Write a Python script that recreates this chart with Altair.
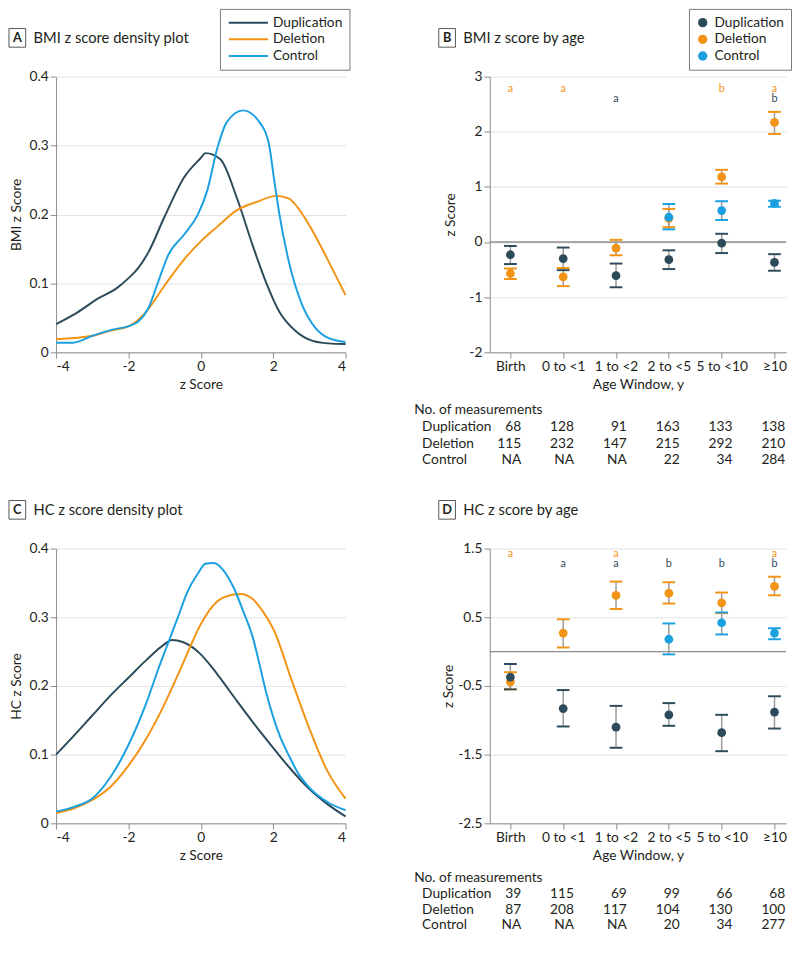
import altair as alt
import pandas as pd

FONT = "Lato"
TXT = "#231f20"
GROUPS = ["Duplication", "Deletion", "Control"]
COLORS = ["#2d4a5a", "#f39314", "#1aa0e0"]

AGE_WINDOWS = ["Birth", "0 to <1", "1 to <2", "2 to <5", "5 to <10", "\u226510"]

# ---------------- Panel A: BMI z score density ----------------
bmi_dup_x = [-4, -3.44, -2.81, -2.35, -1.99, -1.72, -1.45, -1.0, -0.46, 0.0, 0.13, 0.54, 0.99, 1.44, 1.80, 2.17, 2.62, 3.07, 3.52, 4.0]
bmi_dup_y = [0.041, 0.057, 0.079, 0.092, 0.108, 0.123, 0.145, 0.197, 0.254, 0.282, 0.289, 0.280, 0.225, 0.154, 0.102, 0.059, 0.031, 0.017, 0.013, 0.012]
bmi_del_x = [-4, -2.99, -2.54, -1.99, -1.54, -1.0, -0.46, 0.0, 0.45, 0.99, 1.53, 2.10, 2.44, 2.62, 3.07, 3.52, 4.0]
bmi_del_y = [0.019, 0.024, 0.031, 0.038, 0.057, 0.097, 0.135, 0.161, 0.182, 0.206, 0.218, 0.227, 0.223, 0.214, 0.178, 0.133, 0.083]
bmi_con_x = [-4, -3.53, -2.99, -2.44, -1.99, -1.72, -1.45, -1.18, -0.91, -0.46, -0.09, 0.18, 0.45, 0.72, 1.17, 1.62, 1.89, 2.03, 2.17, 2.44, 2.80, 3.16, 3.52, 4.0]
bmi_con_y = [0.014, 0.014, 0.024, 0.033, 0.038, 0.045, 0.064, 0.102, 0.140, 0.171, 0.199, 0.235, 0.295, 0.334, 0.351, 0.334, 0.300, 0.249, 0.201, 0.130, 0.069, 0.036, 0.021, 0.015]

# ---------------- Panel C: HC z score density ----------------
hc_dup_x = [-4, -3.5, -3, -2.5, -2, -1.5, -1, -0.8, -0.5, 0, 0.25, 0.5, 1, 1.5, 2, 2.5, 3, 3.5, 4]
hc_dup_y = [0.100, 0.128, 0.157, 0.186, 0.212, 0.238, 0.261, 0.267, 0.264, 0.246, 0.231, 0.214, 0.178, 0.143, 0.110, 0.078, 0.050, 0.028, 0.010]
hc_del_x = [-4, -3.5, -3, -2.5, -2, -1.5, -1, -0.5, -0.27, 0, 0.45, 0.81, 1.1, 1.4, 1.71, 2.03, 2.5, 3, 3.5, 4]
hc_del_y = [0.015, 0.022, 0.034, 0.053, 0.084, 0.124, 0.174, 0.232, 0.260, 0.290, 0.323, 0.332, 0.334, 0.328, 0.309, 0.280, 0.210, 0.138, 0.076, 0.036]
hc_con_x = [-4, -3.5, -3, -2.5, -2, -1.5, -1.18, -0.64, -0.37, -0.09, 0.13, 0.36, 0.63, 0.90, 1.17, 1.44, 1.62, 1.8, 2.0, 2.2, 2.44, 2.7, 3.0, 3.5, 4]
hc_con_y = [0.017, 0.024, 0.036, 0.067, 0.114, 0.176, 0.224, 0.299, 0.337, 0.363, 0.378, 0.379, 0.368, 0.344, 0.309, 0.270, 0.232, 0.192, 0.155, 0.125, 0.098, 0.072, 0.052, 0.031, 0.019]

# ---------------- Panel B: BMI z score by age ----------------
bmi_dup_mean = [-0.23, -0.30, -0.61, -0.32, -0.02, -0.37]
bmi_dup_lo = [-0.40, -0.51, -0.82, -0.49, -0.20, -0.52]
bmi_dup_hi = [-0.07, -0.10, -0.39, -0.15, 0.15, -0.22]
bmi_del_mean = [-0.57, -0.63, -0.11, 0.43, 1.18, 2.17]
bmi_del_lo = [-0.67, -0.80, -0.24, 0.27, 1.06, 1.96]
bmi_del_hi = [-0.48, -0.47, 0.04, 0.60, 1.31, 2.36]
bmi_con_mean = [None, None, None, 0.45, 0.57, 0.70]
bmi_con_lo = [None, None, None, 0.23, 0.40, 0.64]
bmi_con_hi = [None, None, None, 0.69, 0.74, 0.75]
bmi_dup_sig = ["", "", "a", "", "", "b"]
bmi_del_sig = ["a", "a", "", "", "b", "a"]
bmi_n_dup = ["68", "128", "91", "163", "133", "138"]
bmi_n_del = ["115", "232", "147", "215", "292", "210"]
bmi_n_con = ["NA", "NA", "NA", "22", "34", "284"]

# ---------------- Panel D: HC z score by age ----------------
hc_dup_mean = [-0.37, -0.83, -1.10, -0.92, -1.18, -0.88]
hc_dup_lo = [-0.55, -1.09, -1.40, -1.08, -1.45, -1.12]
hc_dup_hi = [-0.18, -0.56, -0.79, -0.75, -0.92, -0.65]
hc_del_mean = [-0.44, 0.27, 0.82, 0.85, 0.71, 0.95]
hc_del_lo = [-0.55, 0.06, 0.62, 0.70, 0.56, 0.82]
hc_del_hi = [-0.30, 0.47, 1.02, 1.01, 0.86, 1.09]
hc_con_mean = [None, None, None, 0.18, 0.42, 0.27]
hc_con_lo = [None, None, None, -0.04, 0.25, 0.18]
hc_con_hi = [None, None, None, 0.41, 0.57, 0.34]
hc_dup_sig = ["", "a", "a", "b", "b", "b"]
hc_del_sig = ["a", "", "a", "", "", "a"]
hc_n_dup = ["39", "115", "69", "99", "66", "68"]
hc_n_del = ["87", "208", "117", "104", "130", "100"]
hc_n_con = ["NA", "NA", "NA", "20", "34", "277"]

# ------------------------------------------------------------------
MINUS = "replace(datum.label, '\u2212', '-')"
AGE_EXPR = "[" + ",".join("'" + a + "'" for a in AGE_WINDOWS) + "][datum.value]"


def color_enc(legend, field="group"):
    if legend is None:
        return alt.Color(f"{field}:N", scale=alt.Scale(domain=GROUPS, range=COLORS), legend=None)
    return alt.Color(f"{field}:N", scale=alt.Scale(domain=GROUPS, range=COLORS), legend=legend)


def label_box(letter, title, x0, y0):
    d = pd.DataFrame({"t": [letter]})
    box = alt.Chart(d).mark_rect(fill="white", stroke="#555", strokeWidth=1).encode(
        x=alt.value(x0), x2=alt.value(x0 + 17), y=alt.value(y0), y2=alt.value(y0 + 19))
    lt = alt.Chart(d).mark_text(font=FONT, fontSize=13, fontWeight="bold", color=TXT).encode(
        x=alt.value(x0 + 8.5), y=alt.value(y0 + 10), text="t:N")
    tt = alt.Chart(pd.DataFrame({"t": [title]})).mark_text(
        font=FONT, fontSize=15, align="left", color=TXT).encode(
        x=alt.value(x0 + 25), y=alt.value(y0 + 10), text="t:N")
    return [box, lt, tt]


def density_df(xs_list, ys_list):
    rows = []
    for g, xs, ys in zip(GROUPS, xs_list, ys_list):
        for x, y in zip(xs, ys):
            rows.append({"group": g, "z": x, "d": y})
    return pd.DataFrame(rows)


def density_panel(df, ytitle, letter, title, legend, height):
    lines = alt.Chart(df).mark_line(strokeWidth=2, interpolate="monotone").encode(
        x=alt.X("z:Q", scale=alt.Scale(domain=[-4, 4], nice=False, zero=False),
                axis=alt.Axis(values=[-4, -2, 0, 2, 4], title="z Score", grid=False,
                              labelExpr=MINUS)),
        y=alt.Y("d:Q", scale=alt.Scale(domain=[0, 0.4], nice=False),
                axis=alt.Axis(values=[0, 0.1, 0.2, 0.3, 0.4], format=".1~f", title=ytitle,
                              grid=True, titlePadding=6)),
        color=color_enc(legend),
    )
    return alt.layer(lines, *label_box(letter, title, -48, -49)).properties(width=295, height=height)


def age_panel(means, los, his, sigs, sig_y, counts, ydom, yvals, ytpad, letter, title,
              legend, height, table_y):
    rows = []
    # drawing order: Deletion, Control, Duplication on top
    for gi in [1, 2, 0]:
        for i in range(len(AGE_WINDOWS)):
            if means[gi][i] is None:
                continue
            rows.append({"idx": i, "group": GROUPS[gi], "mean": means[gi][i],
                         "lo": los[gi][i], "hi": his[gi][i]})
    dfp = pd.DataFrame(rows)
    srows = []
    for gi in [1, 0]:
        for i, s in enumerate(sigs[gi]):
            if s:
                srows.append({"idx": i, "group": GROUPS[gi], "letter": s, "yv": sig_y[gi]})
    dfs = pd.DataFrame(srows)
    dfn = pd.DataFrame({"idx": list(range(len(AGE_WINDOWS))), "n0": counts[0],
                        "n1": counts[1], "n2": counts[2]})

    xs = alt.Scale(domain=[-0.39, 5.22], nice=False, zero=False)
    ys = alt.Scale(domain=ydom, nice=False, zero=False)
    xaxis = alt.Axis(values=list(range(6)), labelExpr=AGE_EXPR, title="Age Window, y",
                     grid=False)
    yaxis = alt.Axis(values=yvals, format=".1~f", labelExpr=MINUS, title="z Score",
                     grid=True, titlePadding=ytpad)

    def X():
        return alt.X("idx:Q", scale=xs, axis=xaxis, title="Age Window, y")

    def Y(f):
        return alt.Y(f"{f}:Q", scale=ys, axis=yaxis, title="z Score")

    def C():
        return color_enc(legend)

    base = alt.Chart(dfp)
    pts = base.mark_circle(size=80, opacity=1).encode(x=X(), y=Y("mean"), color=C())
    zero = alt.Chart(pd.DataFrame({"mean": [0]})).mark_rule(
        color="#8c8c8c", strokeWidth=1.5).encode(y=Y("mean"))
    bars = base.mark_rule(color="#9a9a9a", strokeWidth=1.5).encode(
        x=X(), y=Y("lo"), y2="hi:Q")
    cap_lo = base.mark_tick(orient="horizontal", size=13, thickness=2, opacity=1).encode(
        x=X(), y=Y("lo"), color=C())
    cap_hi = base.mark_tick(orient="horizontal", size=13, thickness=2, opacity=1).encode(
        x=X(), y=Y("hi"), color=C())
    letters = alt.Chart(dfs).mark_text(font=FONT, fontSize=11).encode(
        x=X(), y=Y("yv"), text="letter:N", color=C())

    layers = [zero, bars, cap_lo, cap_hi, pts, letters]
    head = alt.Chart(pd.DataFrame({"t": ["No. of measurements"]})).mark_text(
        font=FONT, fontSize=14, align="left", color=TXT).encode(
        x=alt.value(-77), y=alt.value(table_y[0]), text="t:N")
    layers.append(head)
    for k in range(3):
        lab = alt.Chart(pd.DataFrame({"t": [GROUPS[k]]})).mark_text(
            font=FONT, fontSize=14, align="left", color=TXT).encode(
            x=alt.value(-69), y=alt.value(table_y[k + 1]), text="t:N")
        nums = alt.Chart(dfn).mark_text(font=FONT, fontSize=14, align="right", dx=11,
                                         color=TXT).encode(
            x=X(), y=alt.value(table_y[k + 1]), text=f"n{k}:N")
        layers += [lab, nums]
    layers += label_box(letter, title, -52, -49)
    return alt.layer(*layers).properties(width=302, height=height)


legend_lines = alt.Legend(title=None, orient="none", legendX=167, legendY=-69,
                          symbolType="M-1,0H7", symbolSize=100, symbolStrokeWidth=2,
                          labelFont=FONT, labelFontSize=14, labelColor=TXT,
                          strokeColor="#777", fillColor="white", padding=7, rowPadding=3,
                          labelOffset=33)
legend_pts = alt.Legend(title=None, orient="none", legendX=203, legendY=-69,
                        symbolType="circle", symbolSize=90, symbolStrokeWidth=0,
                        symbolOpacity=1, labelFont=FONT, labelFontSize=14, labelColor=TXT,
                        strokeColor="#777", fillColor="white", padding=7, rowPadding=3,
                        labelOffset=5)

panelA = density_panel(density_df([bmi_dup_x, bmi_del_x, bmi_con_x],
                                  [bmi_dup_y, bmi_del_y, bmi_con_y]),
                       "BMI z Score", "A", "BMI z score density plot", legend_lines, 281)
panelB = age_panel([bmi_dup_mean, bmi_del_mean, bmi_con_mean],
                   [bmi_dup_lo, bmi_del_lo, bmi_con_lo],
                   [bmi_dup_hi, bmi_del_hi, bmi_con_hi],
                   [bmi_dup_sig, bmi_del_sig], {0: 2.59, 1: 2.77},
                   [bmi_n_dup, bmi_n_del, bmi_n_con],
                   [-2, 3], [-2, -1, 0, 1, 2, 3], 12, "B", "BMI z score by age",
                   legend_pts, 281, [340, 357, 374, 391])
panelC = density_panel(density_df([hc_dup_x, hc_del_x, hc_con_x],
                                  [hc_dup_y, hc_del_y, hc_con_y]),
                       "HC z Score", "C", "HC z score density plot", None, 280)
panelD = age_panel([hc_dup_mean, hc_del_mean, hc_con_mean],
                   [hc_dup_lo, hc_del_lo, hc_con_lo],
                   [hc_dup_hi, hc_del_hi, hc_con_hi],
                   [hc_dup_sig, hc_del_sig], {0: 1.27, 1: 1.42},
                   [hc_n_dup, hc_n_del, hc_n_con],
                   [-2.5, 1.5], [-2.5, -1.5, -0.5, 0.5, 1.5], 2, "D", "HC z score by age",
                   None, 280, [336, 352, 368, 384])

chart = alt.concat(panelA, panelB, panelC, panelD, columns=2,
                   spacing={"row": 200, "column": 147}, bounds="flush").resolve_scale(
    color="independent").properties(
    padding={"left": 0, "right": 0, "top": -9, "bottom": 0}
).configure(font=FONT).configure_view(stroke=None).configure_axis(
    labelFont=FONT, labelFontSize=14, labelColor=TXT, titleFont=FONT, titleFontSize=14,
    titleFontWeight="normal", titleColor=TXT, domainColor="#8c8c8c", tickColor="#8c8c8c",
    tickSize=6, gridColor="#e2e2e2", labelPadding=2)

chart.save("out.html", embed_options={"renderer": "svg", "actions": False})
